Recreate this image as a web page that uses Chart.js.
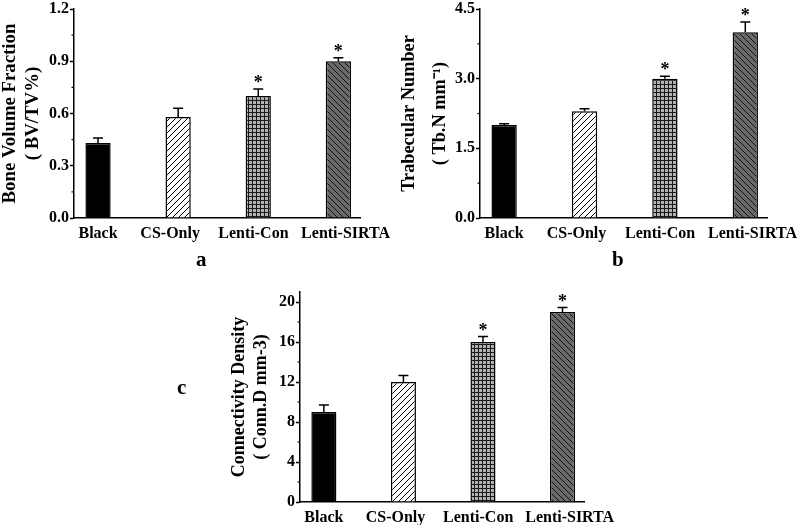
<!DOCTYPE html>
<html>
<head>
<meta charset="utf-8">
<script src="https://cdn.jsdelivr.net/npm/chart.js@4.4.0/dist/chart.umd.min.js"></script>
<style>
    body { margin: 0; background: #fff; }
    #page { position: relative; width: 800px; height: 525px; overflow: hidden; background: #fff; }
    canvas { position: absolute; }
    .panel { position: absolute; font: bold 21px "Liberation Serif", serif; line-height: 21px; color: #000; }
</style>
</head>
<body>
<div id="page">
    <canvas id="bvtvChart" width="400" height="262" style="left:0;top:0"></canvas>
    <canvas id="tbnChart" width="400" height="262" style="left:400px;top:0"></canvas>
    <canvas id="conndChart" width="450" height="245" style="left:170px;top:280px"></canvas>
    <div class="panel" style="left:196px;top:249px">a</div>
    <div class="panel" style="left:612px;top:249px">b</div>
    <div class="panel" style="left:177px;top:377px">c</div>
</div>
<script>
// Nhóm thí nghiệm
const groups = ['Black', 'CS-Only', 'Lenti-Con', 'Lenti-SIRTA'];

// a: Bone Volume Fraction
const bvtvMean = [0.43, 0.58, 0.70, 0.90];
const bvtvErr = [0.03, 0.05, 0.04, 0.02];
const bvtvSig = [false, false, true, true];
const bvtvTicks = [0, 0.3, 0.6, 0.9, 1.2];

// b: Trabecular Number
const tbnMean = [2.0, 2.3, 3.0, 4.0];
const tbnErr = [0.03, 0.05, 0.05, 0.22];
const tbnSig = [false, false, true, true];
const tbnTicks = [0, 1.5, 3.0, 4.5];

// c: Connectivity Density
const conndMean = [9, 12, 16, 19];
const conndErr = [0.7, 0.65, 0.55, 0.45];
const conndSig = [false, false, true, true];
const conndTicks = [0, 4, 8, 12, 16, 20];

// nhãn trục hoành hơi lệch so với tâm cột (như ảnh gốc)
const labelNudge = [0, -0.1, -0.06, 0.09];

const FONT = 'Liberation Serif';
Chart.defaults.font.family = FONT;
Chart.defaults.font.weight = 'bold';
Chart.defaults.color = '#000';

// Mẫu tô (hatch) cho từng cột
function makePattern(size, bg, drawLines) {
    const c = document.createElement('canvas');
    c.width = c.height = size;
    const g = c.getContext('2d');
    g.fillStyle = bg;
    g.fillRect(0, 0, size, size);
    g.strokeStyle = '#000';
    g.lineWidth = 1;
    drawLines(g, size);
    return g.createPattern(c, 'repeat');
}

const fills = [
    '#000',
    makePattern(6, '#fff', function(g, s) {
        g.beginPath();
        g.moveTo(0, s); g.lineTo(s, 0);
        g.moveTo(-1, 1); g.lineTo(1, -1);
        g.moveTo(s - 1, s + 1); g.lineTo(s + 1, s - 1);
        g.stroke();
    }),
    makePattern(4, '#b2b2b2', function(g, s) {
        g.strokeStyle = '#1a1a1a';
        g.beginPath();
        g.moveTo(0.5, 0); g.lineTo(0.5, s);
        g.moveTo(0, 0.5); g.lineTo(s, 0.5);
        g.stroke();
    }),
    makePattern(6, '#6a6a6a', function(g, s) {
        g.strokeStyle = '#111';
        g.beginPath();
        g.moveTo(0, 0); g.lineTo(s, s);
        g.moveTo(s - 1, -1); g.lineTo(s + 1, 1);
        g.moveTo(-1, s - 1); g.lineTo(1, s + 1);
        g.stroke();
    })
];

// Thanh sai số (chỉ phía trên) và dấu sao
const errorBars = {
    id: 'errorBars',
    afterDatasetsDraw(chart, args, opts) {
        const { ctx, scales: { x, y } } = chart;
        const data = chart.data.datasets[0].data;
        ctx.save();
        ctx.strokeStyle = '#000';
        ctx.lineWidth = 1.5;
        ctx.fillStyle = '#000';
        ctx.font = 'bold 18px "' + FONT + '"';
        ctx.textAlign = 'center';
        ctx.textBaseline = 'alphabetic';
        data.forEach(function(pt, i) {
            const px = x.getPixelForValue(pt.x);
            const y0 = y.getPixelForValue(pt.y);
            const y1 = y.getPixelForValue(pt.y + opts.errors[i]);
            ctx.beginPath();
            ctx.moveTo(px, y0); ctx.lineTo(px, y1);
            ctx.moveTo(px - 5, y1); ctx.lineTo(px + 5, y1);
            ctx.stroke();
            if (opts.marks[i]) {
                ctx.fillText('*', px, y1 - 1);
            }
        });
        ctx.restore();
    }
};

// Vạch chia phụ trên trục tung
const minorTicks = {
    id: 'minorTicks',
    afterDraw(chart) {
        const { ctx, scales: { y } } = chart;
        const t = y.ticks;
        ctx.save();
        ctx.strokeStyle = '#000';
        ctx.lineWidth = 1.2;
        for (let i = 0; i < t.length - 1; i++) {
            const py = y.getPixelForValue((t[i].value + t[i + 1].value) / 2);
            ctx.beginPath();
            ctx.moveTo(y.right - 2.5, py);
            ctx.lineTo(y.right, py);
            ctx.stroke();
        }
        ctx.restore();
    }
};

function buildChart(id, means, errs, sig, yTicks, yMax, decimals, title, box) {
    const ctx = document.getElementById(id).getContext('2d');
    return new Chart(ctx, {
        type: 'bar',
        data: {
            datasets: [{
                data: means.map(function(v, i) { return { x: i + 1, y: v }; }),
                backgroundColor: fills,
                borderColor: '#000',
                borderWidth: 1.5,
                barPercentage: 0.35,
                categoryPercentage: 1
            }]
        },
        options: {
            responsive: false,
            animation: false,
            layout: { padding: box.padding },
            plugins: {
                legend: { display: false },
                tooltip: { enabled: false },
                errorBars: { errors: errs, marks: sig }
            },
            scales: {
                x: {
                    type: 'linear',
                    offset: false,
                    min: 0.7,
                    max: 4.27,
                    afterBuildTicks: function(s) {
                        s.ticks = groups.map(function(g, i) { return { value: i + 1 + labelNudge[i] }; });
                    },
                    afterFit: function(s) { s.height = box.xHeight; },
                    grid: { display: false },
                    border: { display: true, color: '#000', width: 1.5 },
                    ticks: {
                        autoSkip: false,
                        maxRotation: 0,
                        padding: 0,
                        font: { size: 16, weight: 'bold', lineHeight: 1 },
                        callback: function(v, i) { return groups[i]; }
                    }
                },
                y: {
                    min: 0,
                    max: yMax,
                    afterBuildTicks: function(s) { s.ticks = yTicks.map(function(v) { return { value: v }; }); },
                    afterFit: function(s) { s.width = box.yWidth; },
                    grid: { drawOnChartArea: false, tickLength: 4, tickColor: '#000', tickWidth: 1.5 },
                    border: { color: '#000', width: 1.5 },
                    ticks: {
                        padding: 1,
                        font: { size: 16, weight: 'bold', lineHeight: 1 },
                        callback: function(v) { return v.toFixed(decimals); }
                    },
                    title: {
                        display: true,
                        text: title,
                        font: { size: box.titleSize, weight: 'bold', lineHeight: box.titleLine },
                        padding: { top: box.titlePad, bottom: 0 }
                    }
                }
            }
        },
        plugins: [errorBars, minorTicks]
    });
}

document.addEventListener('DOMContentLoaded', function() {
    buildChart('bvtvChart', bvtvMean, bvtvErr, bvtvSig, bvtvTicks, 1.2, 1,
        ['Bone Volume Fraction', '( BV/TV%)'],
        { padding: { left: 0, top: 8, right: 40, bottom: 14 }, xHeight: 30, yWidth: 74,
          titleSize: 18.8, titleLine: 1.25, titlePad: -2 });

    buildChart('tbnChart', tbnMean, tbnErr, tbnSig, tbnTicks, 4.5, 1,
        ['Trabecular Number', '( Tb.N mm\u207B\u00B9)'],
        { padding: { left: 0, top: 8, right: 33, bottom: 14 }, xHeight: 30, yWidth: 80,
          titleSize: 18.3, titleLine: 1.7, titlePad: -6 });

    buildChart('conndChart', conndMean, conndErr, conndSig, conndTicks, 21, 0,
        ['Connectivity Density', '( Conn.D mm-3)'],
        { padding: { left: 0, top: 12, right: 36, bottom: 0 }, xHeight: 23, yWidth: 130,
          titleSize: 18, titleLine: 1.22, titlePad: 58 });
});
</script>
</body>
</html>
